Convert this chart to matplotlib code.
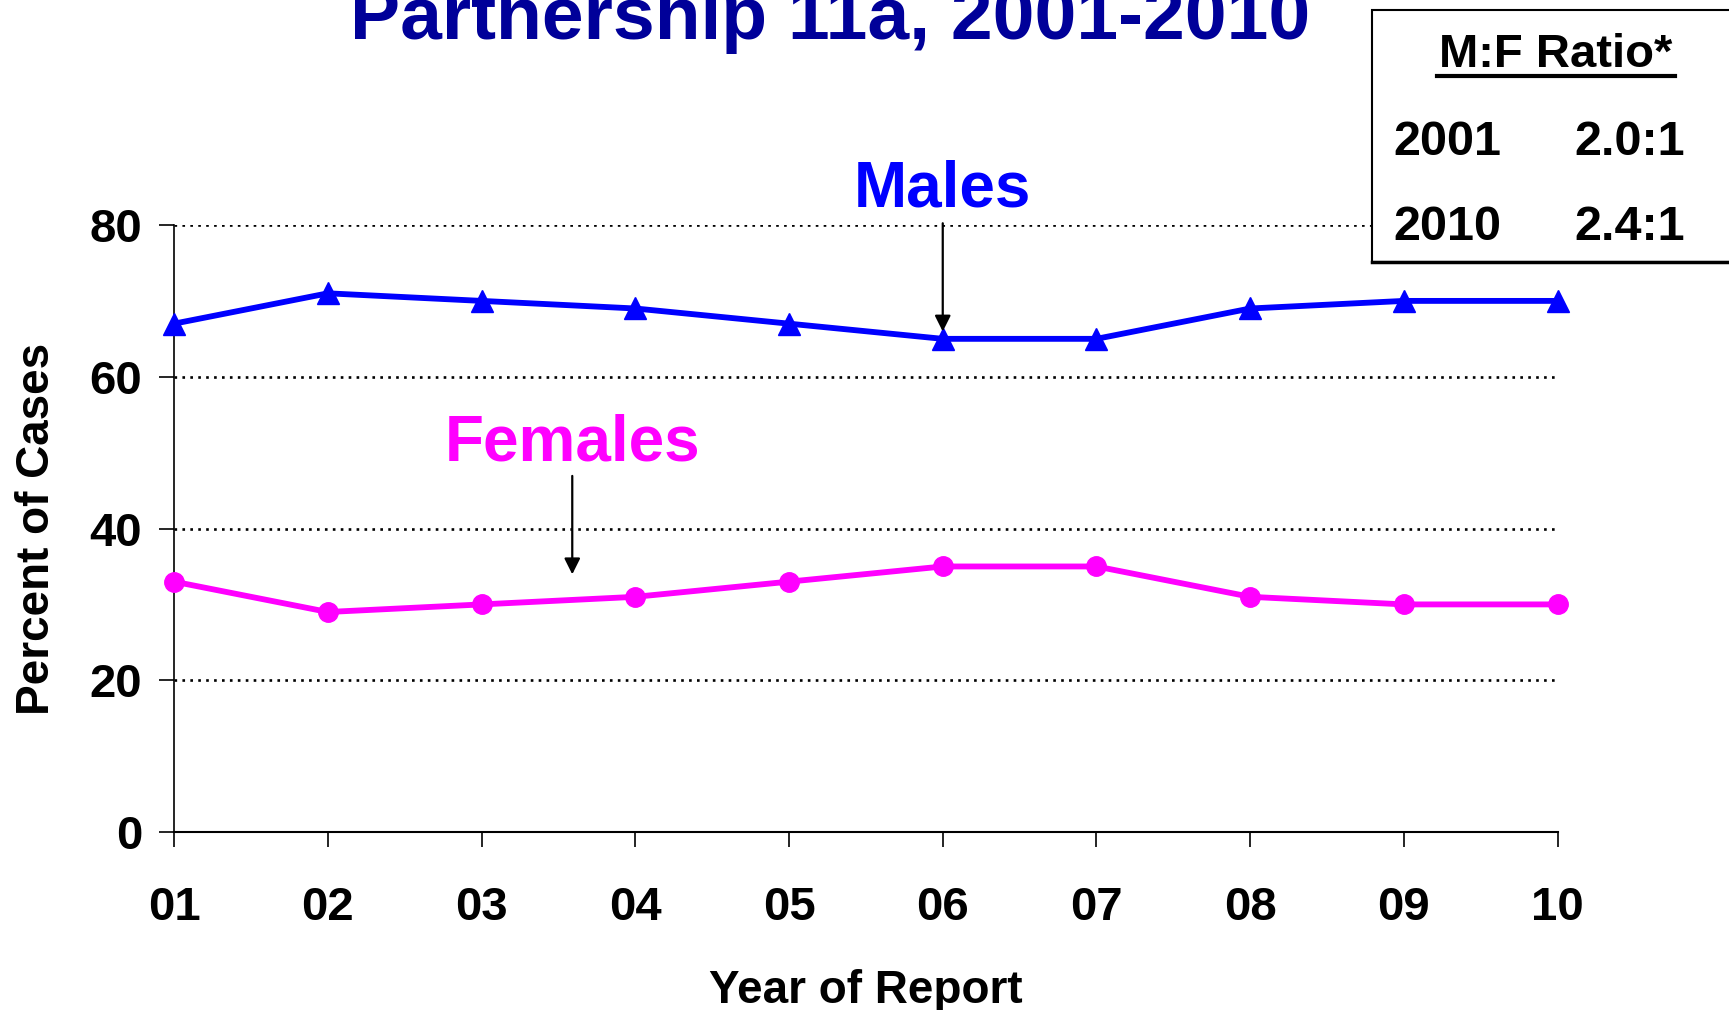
import matplotlib
matplotlib.use("Agg")
import matplotlib.pyplot as plt
from matplotlib.patches import Rectangle
from matplotlib.lines import Line2D

plt.rcParams["font.family"] = ["Liberation Sans", "DejaVu Sans"]
plt.rcParams["font.weight"] = "bold"

# Data
years = [1, 2, 3, 4, 5, 6, 7, 8, 9, 10]
year_labels = ["01", "02", "03", "04", "05", "06", "07", "08", "09", "10"]
males = [67, 71, 70, 69, 67, 65, 65, 69, 70, 70]
females = [33, 29, 30, 31, 33, 35, 35, 31, 30, 30]
ratio_years = ["2001", "2010"]
ratio_values = ["2.0:1", "2.4:1"]

fig = plt.figure(figsize=(17.29, 10.10), dpi=100)
ax = fig.add_axes([0.1007, 0.1762, 0.8002, 0.601])

ax.plot(years, males, color="#0000FF", lw=4.2, marker="^", ms=16, clip_on=False, zorder=3)
ax.plot(years, females, color="#FF00FF", lw=4.2, marker="o", ms=14, clip_on=False, zorder=3)

ax.set_xlim(1, 10)
ax.set_ylim(0, 80)
ax.set_xticks(years)
ax.set_xticklabels(year_labels)
ax.set_yticks([0, 20, 40, 60, 80])
ax.tick_params(axis="both", direction="out", length=11, width=1.2, labelsize=34, pad=28)
ax.tick_params(axis="y", pad=12)
for lab in ax.get_xticklabels() + ax.get_yticklabels():
    lab.set_fontweight("bold")

ax.spines["top"].set_visible(False)
ax.spines["right"].set_visible(False)
ax.spines["left"].set_linewidth(1.2)
ax.spines["bottom"].set_linewidth(1.5)

ax.yaxis.grid(True, color="black", linestyle=(0, (1, 2.0)), linewidth=1.9)
ax.set_axisbelow(True)

ax.set_ylabel("Percent of Cases", fontsize=33, fontweight="bold", labelpad=22)
ax.set_xlabel("Year of Report", fontsize=33, fontweight="bold", labelpad=28)

fig.text(0.480, 0.961, "Partnership 11a, 2001-2010", ha="center", va="baseline",
         fontsize=54, fontweight="bold", color="#000099")

# series labels with arrows
ax.text(6, 82.5, "Males", ha="center", va="baseline", fontsize=46,
        fontweight="bold", color="#0000FF", clip_on=False)
ax.annotate("", xy=(6, 65.6), xytext=(6, 80.6),
            arrowprops=dict(arrowstyle="-|>", color="black", lw=1.6, mutation_scale=24),
            annotation_clip=False)
ax.text(3.59, 49.0, "Females", ha="center", va="baseline", fontsize=46,
        fontweight="bold", color="#FF00FF", clip_on=False)
ax.annotate("", xy=(3.59, 33.6), xytext=(3.59, 47.3),
            arrowprops=dict(arrowstyle="-|>", color="black", lw=1.6, mutation_scale=24),
            annotation_clip=False)

# M:F ratio box
box = Rectangle((0.7935, 0.7406), 0.25, 0.2495, transform=fig.transFigure,
                facecolor="white", edgecolor="black", lw=1.5, zorder=5)
fig.patches.append(box)
fig.lines.append(Line2D([0.7935, 1.0], [0.7406, 0.7406], transform=fig.transFigure,
                        color="black", lw=2.5, zorder=6))

fig.text(0.8999, 0.9337, "M:F Ratio*", ha="center", va="baseline", fontsize=34,
         fontweight="bold", zorder=7)
fig.lines.append(Line2D([0.8311, 0.9688], [0.9248, 0.9248], transform=fig.transFigure,
                        color="black", lw=3, zorder=7))
for i, (yr, val) in enumerate(zip(ratio_years, ratio_values)):
    yb = [0.8465, 0.7624][i]
    fig.text(0.8057, yb, yr, ha="left", va="baseline", fontsize=35, fontweight="bold", zorder=7)
    fig.text(0.9748, yb, val, ha="right", va="baseline", fontsize=35, fontweight="bold", zorder=7)

fig.savefig("out.png", dpi=100)
